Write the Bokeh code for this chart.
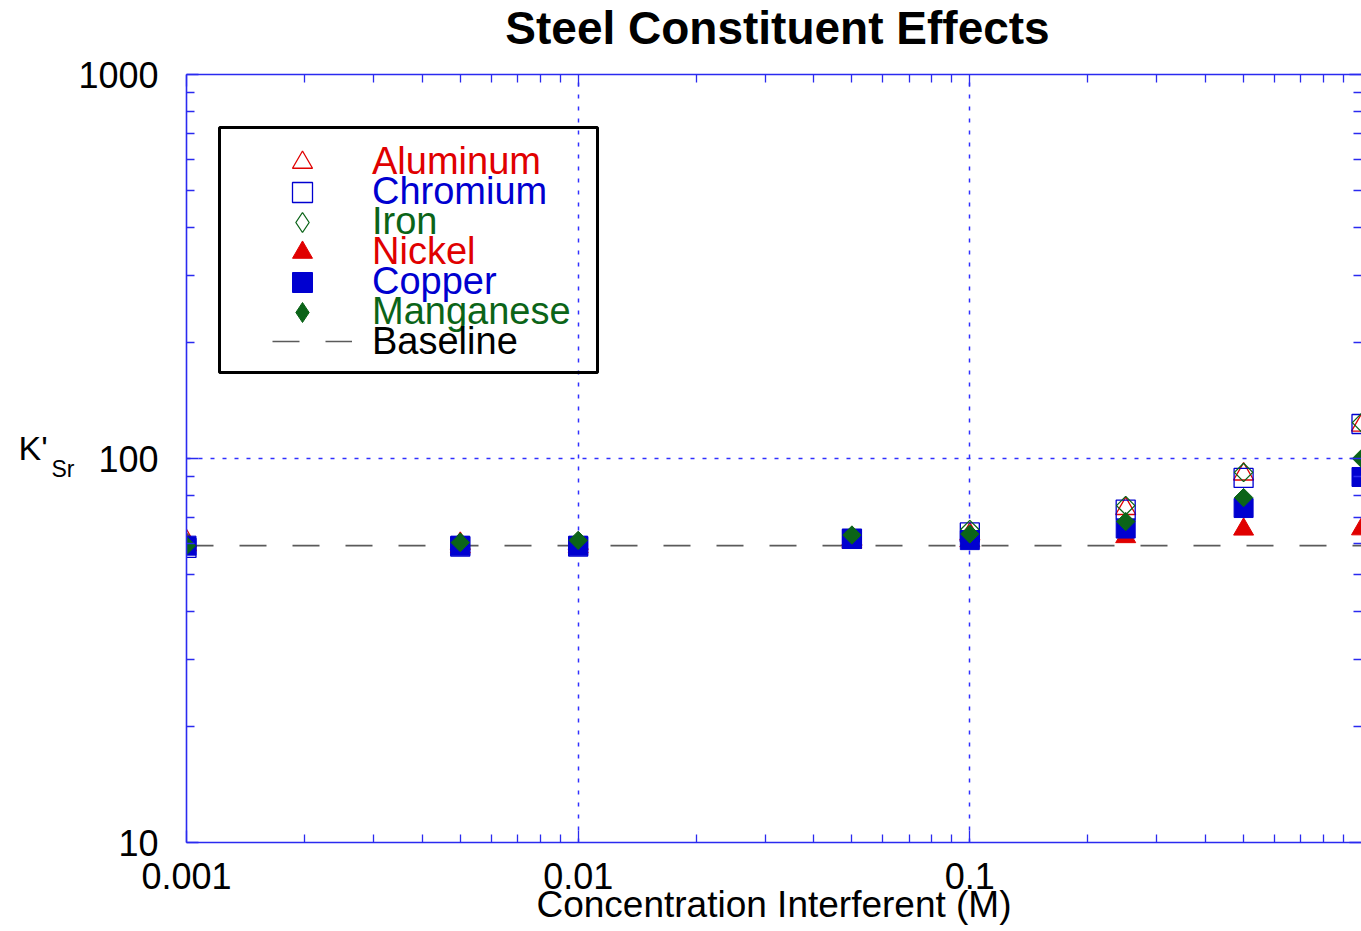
import math
from bokeh.plotting import figure
from bokeh.models import (LogAxis, FixedTicker, Legend, LegendItem, Label,
                          BoxAnnotation, Range1d, CustomJSTickFormatter)
from bokeh.embed import file_html
from bokeh.resources import INLINE

# ---------------- data ----------------
conc = [0.001, 0.005, 0.01, 0.05, 0.1, 0.25, 0.5, 1.0]
aluminum = [61.0, 60.0, 60.0, 61.5, 63.5, 74.0, 91.0, 122.0]
chromium = [58.5, 59.0, 59.0, 61.8, 64.2, 73.6, 89.0, 123.0]
iron = [60.5, 60.5, 60.0, 62.0, 65.3, 75.4, 92.0, 124.0]
nickel = [59.5, 58.8, 58.8, 60.5, 61.0, 62.5, 65.4, 65.5]
copper = [59.3, 59.3, 59.3, 61.7, 61.3, 65.7, 74.3, 89.5]
manganese = [59.3, 60.4, 61.2, 63.2, 63.6, 68.5, 79.1, 100.0]
baseline_value = 59.3

x_ticks = [0.001, 0.01, 0.1]
x_tick_labels = ["0.001", "0.01", "0.1"]
y_ticks = [10, 100, 1000]
y_tick_labels = ["10", "100", "1000"]

RED = "#e00000"
BLUE = "#0000d0"
GREEN = "#0b6418"
AXIS_BLUE = "#2a2af0"
FONT = "Liberation Sans"

def minor_ticks(lo_exp, hi_exp):
    out = []
    for e in range(lo_exp, hi_exp):
        for m in range(2, 10):
            out.append(m * 10.0 ** e)
    return out

x_minor = minor_ticks(-3, 0)
y_minor = minor_ticks(1, 3)

p = figure(width=1361, height=931, x_axis_type="log", y_axis_type="log",
           x_range=Range1d(0.001, 1.0), y_range=Range1d(10, 1000),
           output_backend="svg", toolbar_location=None,
           min_border_left=186, min_border_right=0, min_border_top=74,
           min_border_bottom=89)
p.outline_line_color = None
p.background_fill_color = "white"
# a range far above the data, used only to give legend-key glyphs a home
p.extra_y_ranges = {"key": Range1d(1e4, 1e5)}

# grids
for g, tk in ((p.xgrid, x_ticks), (p.ygrid, y_ticks)):
    g.ticker = FixedTicker(ticks=tk)
    g.grid_line_color = "#3030ff"
    g.grid_line_dash = "4 8"
    g.grid_line_width = 1.5

def style_axis(ax, ticks, minors, overrides, show_labels, standoff):
    ax.ticker = FixedTicker(ticks=ticks, minor_ticks=minors)
    ax.axis_line_color = AXIS_BLUE
    ax.axis_line_width = 1.6
    ax.major_tick_line_color = AXIS_BLUE
    ax.minor_tick_line_color = AXIS_BLUE
    ax.major_tick_line_width = 1.3
    ax.minor_tick_line_width = 1.3
    ax.major_tick_in = 12
    ax.major_tick_out = 0
    ax.minor_tick_in = 8
    ax.minor_tick_out = 0
    if show_labels:
        ax.major_label_overrides = overrides
        ax.major_label_text_font = FONT
        ax.major_label_text_font_size = "36px"
        ax.major_label_text_color = "black"
        ax.major_label_standoff = standoff
    else:
        ax.formatter = CustomJSTickFormatter(code="return ''")
        ax.major_label_text_font_size = "2px"
        ax.major_label_standoff = 0

xo = {t: s for t, s in zip(x_ticks, x_tick_labels)}
yo = {t: s for t, s in zip(y_ticks, y_tick_labels)}
xax = p.xaxis[0]
style_axis(xax, x_ticks, x_minor, xo, True, 20)
xax.axis_label = "Concentration Interferent (M)"
xax.axis_label_text_font = FONT
xax.axis_label_text_font_size = "37px"
xax.axis_label_text_font_style = "normal"
xax.axis_label_text_color = "black"
xax.axis_label_standoff = -8
style_axis(p.yaxis[0], y_ticks, y_minor, yo, True, 28)

top_ax = LogAxis()
style_axis(top_ax, x_ticks, x_minor, xo, False, 0)
p.add_layout(top_ax, "above")
right_ax = LogAxis()
style_axis(right_ax, y_ticks, y_minor, yo, False, 0)
right_ax.axis_line_color = None
p.add_layout(right_ax, "right")

# baseline
r_base = p.line(x=[conc[0], conc[-1]], y=[baseline_value, baseline_value],
                line_color="#5a5a5a", line_width=1.6, line_dash="27 26")

# series
r_al = p.scatter(conc, aluminum, marker="triangle", size=20, fill_color=None,
                 line_color=RED, line_width=1.3)
r_cr = p.scatter(conc, chromium, marker="square", size=19, fill_color=None,
                 line_color=BLUE, line_width=1.3)
r_fe = p.scatter(conc, iron, marker="square", size=13, angle=math.pi / 4,
                 fill_color=None, line_color=GREEN, line_width=1.3)
r_ni = p.scatter(conc, nickel, marker="triangle", size=20, fill_color=RED,
                 line_color=RED, line_width=1)
r_cu = p.scatter(conc, copper, marker="square", size=19, fill_color=BLUE,
                 line_color=BLUE, line_width=1)
r_mn = p.scatter(conc, manganese, marker="square", size=13, angle=math.pi / 4,
                 fill_color=GREEN, line_color=GREEN, line_width=1)

# legend-key diamonds (legend icons ignore marker rotation); their points
# fall outside the visible range, so only the legend icon shows
r_fe_key = p.scatter(conc, iron, marker="diamond", y_range_name="key",
                     fill_color=None, line_color=GREEN, line_width=1.3)
r_mn_key = p.scatter(conc, manganese, marker="diamond", y_range_name="key",
                     fill_color=GREEN, line_color=GREEN, line_width=1)

# legends (one per entry so each label gets its own colour)
entries = [
    ("Aluminum", r_al, RED),
    ("Chromium", r_cr, BLUE),
    ("Iron", r_fe_key, GREEN),
    ("Nickel", r_ni, RED),
    ("Copper", r_cu, BLUE),
    ("Manganese", r_mn_key, GREEN),
    ("Baseline", r_base, "black"),
]
row_centers = [161.5, 191.5, 221.5, 251.5, 281.5, 311.5, 341.0]
GH = 50
for (label, rend, col), c in zip(entries, row_centers):
    is_line = label == "Baseline"
    gw = 80 if is_line else 60
    so = 20 if is_line else 40
    lg = Legend(items=[LegendItem(label=label, renderers=[rend])],
                location=(86, 842 - c - GH / 2),
                padding=0, margin=0, spacing=0,
                glyph_width=gw, glyph_height=GH, label_height=GH,
                label_standoff=so, border_line_color=None,
                background_fill_alpha=0,
                label_text_font=FONT, label_text_font_size="38px",
                label_text_color=col)
    p.add_layout(lg)

box = BoxAnnotation(left=219, right=597, top=127, bottom=372,
                    left_units="canvas", right_units="canvas",
                    top_units="canvas", bottom_units="canvas",
                    fill_color=None, fill_alpha=0, line_color="black",
                    line_alpha=1.0, line_width=3)
p.add_layout(box)

# title and y-axis label (placed in side panels so they are not clipped)
p.add_layout(Label(x=777, y=27, x_units="canvas", y_units="canvas",
                   text="Steel Constituent Effects", text_font=FONT,
                   text_font_size="46px", text_font_style="bold",
                   text_align="center", text_baseline="middle",
                   text_color="black"), "above")
p.add_layout(Label(x=18, y=447, x_units="canvas", y_units="canvas",
                   text="K'", text_font=FONT, text_font_size="34px",
                   text_align="left", text_baseline="middle",
                   text_color="black"), "left")
p.add_layout(Label(x=51, y=468, x_units="canvas", y_units="canvas",
                   text="Sr", text_font=FONT, text_font_size="23px",
                   text_align="left", text_baseline="middle",
                   text_color="black"), "left")

open("out.html", "w").write(file_html(p, INLINE))
